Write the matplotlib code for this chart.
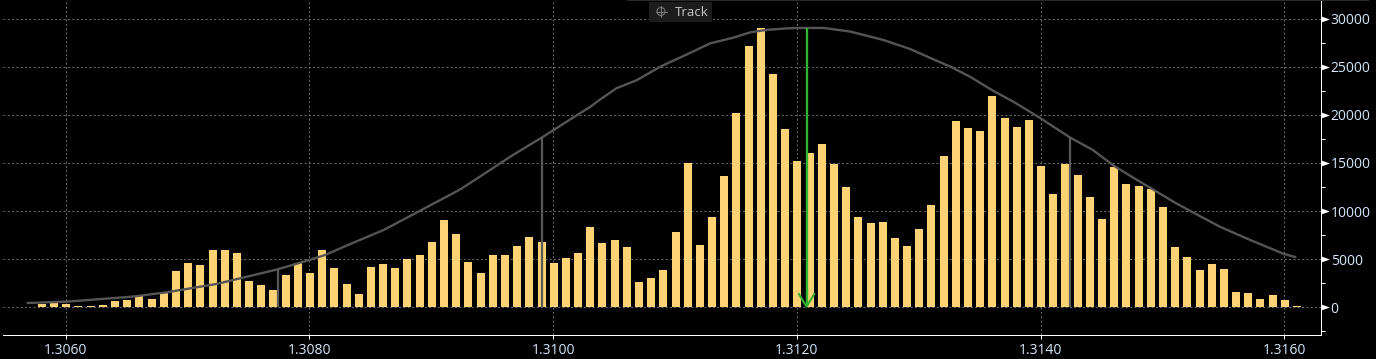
import matplotlib
matplotlib.use('Agg')
import matplotlib.pyplot as plt
from matplotlib.lines import Line2D
from matplotlib.patches import Ellipse, Rectangle

W, H = 1376, 359

# histogram, price buckets 1.3057 to 1.3161
prices = [1.305705 + i * 0.0001 for i in range(105)]
volumes = [70, 350, 500, 350, 140, 140, 240, 690, 800, 1140, 870, 1450, 3780, 4610, 4400,
           5960, 5960, 5650, 2740, 2320, 1800, 3360, 4570, 3570, 5960, 4090, 2430, 1390, 4190, 4500,
           4090, 5020, 5440, 6790, 9080, 7620, 4710, 3570, 5440, 5440, 6380, 7310, 6790, 4610, 5130,
           5650, 8350, 6690, 7000, 6270, 2630, 3050, 3880, 7830, 15000, 6480, 9390, 13650, 20200, 27170,
           29040, 24250, 18540, 15210, 16040, 16980, 14900, 12510, 9390, 8770, 8870, 7210, 6380, 8140, 10640,
           15730, 19370, 18640, 18330, 21970, 19680, 18750, 19470, 14690, 11780, 14900, 13760, 11470, 9180, 14590,
           12820, 12610, 12300, 10430, 6270, 5230, 3880, 4500, 3980, 1590, 1490, 870, 1280, 760, 140]

# gray distribution curve
curve_x = [1.30569, 1.30601, 1.30655, 1.30683, 1.30724, 1.30774, 1.3080, 1.30813, 1.30833, 1.30861,
           1.30891, 1.30924, 1.30937, 1.30967, 1.30991, 1.31022, 1.31030, 1.31038, 1.31052, 1.31069,
           1.31088, 1.31110, 1.31129, 1.31148, 1.31162, 1.31175, 1.31189, 1.3120, 1.31222, 1.31244,
           1.31271, 1.31293, 1.31312, 1.31326, 1.31342, 1.31361, 1.31379, 1.3140, 1.31424, 1.31443,
           1.31460, 1.31476, 1.31493, 1.31509, 1.31523, 1.31547, 1.31572, 1.3160, 1.31609]
curve_y = [450, 590, 1110, 1560, 2430, 3950, 4920, 5440, 6550, 8040,
           10050, 12270, 13340, 15830, 17670, 20170, 20790, 21550, 22770, 23630,
           25020, 26300, 27440, 28030, 28590, 28830, 28970, 29040, 29040, 28660,
           27790, 26850, 25780, 25020, 23980, 22520, 21280, 19650, 17670, 16350,
           14730, 13480, 12200, 10980, 10010, 8390, 7000, 5540, 5230]

# vertical markers
marker_x = [1.30774, 1.30991, 1.31424]
marker_y = [3950, 17670, 17670]
mean_x = 1.31208
mean_y = 29040

xticks = [1.3060, 1.3080, 1.3100, 1.3120, 1.3140, 1.3160]
yticks = [0, 5000, 10000, 15000, 20000, 25000, 30000]
yminor = [-2500, 2500, 7500, 12500, 17500, 22500, 27500]

fig = plt.figure(figsize=(W / 100, H / 100), dpi=100, facecolor='black')
ax = fig.add_axes([3 / W, (H - 335) / H, (1321 - 3) / W, 334 / H], facecolor='black')

# limits from the pixel positions of the ticks
per_px_x = 0.002 / 243.7
per_px_y = 30000 / 288.6
ax.set_xlim(1.3060 - (65.7 - 3) * per_px_x, 1.3060 + (1321 - 65.7) * per_px_x)
ax.set_ylim(-(335 - 307.3) * per_px_y, (307.3 - 1) * per_px_y)

ax.grid(True, color='#6a6a6a', linestyle=(0, (2, 2.3)), linewidth=0.72)
ax.set_axisbelow(True)

ax.bar(prices, volumes, width=8 * per_px_x, color='#ffd373', linewidth=0, zorder=3)
ax.plot(curve_x, curve_y, color='#555555', linewidth=1.7, zorder=4, solid_joinstyle='round')
ax.vlines(marker_x, 0, marker_y, color='#5a5a5a', linewidth=1.6, zorder=4)

ax.vlines(mean_x, 0, mean_y, color='#2fb52f', linewidth=1.7, zorder=5)
ax.plot([mean_x - 7.7 * per_px_x, mean_x, mean_x + 7.7 * per_px_x],
        [13.3 * per_px_y, 0.7 * per_px_y, 13.3 * per_px_y], color='#2fb52f', linewidth=1.5, zorder=5)

ax.set_xticks(xticks)
ax.set_xticklabels(['%.4f' % v for v in xticks])
ax.set_yticks(yticks)
ax.set_yticks(yminor, minor=True)
ax.yaxis.tick_right()
ax.tick_params(axis='x', colors='white', labelcolor='#d5e8fb', labelsize=10, length=3, width=0.72, pad=3)
ax.tick_params(axis='y', which='major', colors='white', labelcolor='#d5e8fb', labelsize=10, length=0, pad=7)
ax.tick_params(axis='y', which='minor', colors='white', length=2.6, width=0.72)
for lab in ax.get_xticklabels() + ax.get_yticklabels():
    lab.set_family('Open Sans')

# little triangle ticks on the price axis
ax.plot([1] * len(yticks), yticks, transform=ax.get_yaxis_transform(), linestyle='none',
        marker=[(0, -0.36), (1, 0), (0, 0.36)], markersize=12, color='white',
        markeredgewidth=0, clip_on=False, zorder=6)

for s in ['top', 'left']:
    ax.spines[s].set_visible(False)
for s in ['bottom', 'right']:
    ax.spines[s].set_color('white')
    ax.spines[s].set_linewidth(0.72)

# Track button
fig.add_artist(Rectangle((649 / W, 1 - 22 / H), 63 / W, 20 / H, transform=fig.transFigure,
                         facecolor='#1c1c1c', edgecolor='none'))
fig.text(675 / W, 1 - 12 / H, 'Track', color='#c8c8c8', fontsize=9.5, va='center', family='Open Sans')
# crosshair icon
fig.add_artist(Ellipse((661 / W, 1 - 11.5 / H), 8 / W, 8 / H, transform=fig.transFigure,
                       facecolor='none', edgecolor='#777777', linewidth=0.8))
fig.add_artist(Line2D([655.5 / W, 666.5 / W], [1 - 11.5 / H] * 2, color='#777777', linewidth=0.8))
fig.add_artist(Line2D([661 / W] * 2, [1 - 6 / H, 1 - 17 / H], color='#777777', linewidth=0.8))
fig.add_artist(Rectangle((627 / W, 1 - 1 / H), 742 / W, 1 / H, transform=fig.transFigure,
                         facecolor='#2a2a2a', edgecolor='none'))

fig.savefig('out.png', dpi=100, facecolor='black')
